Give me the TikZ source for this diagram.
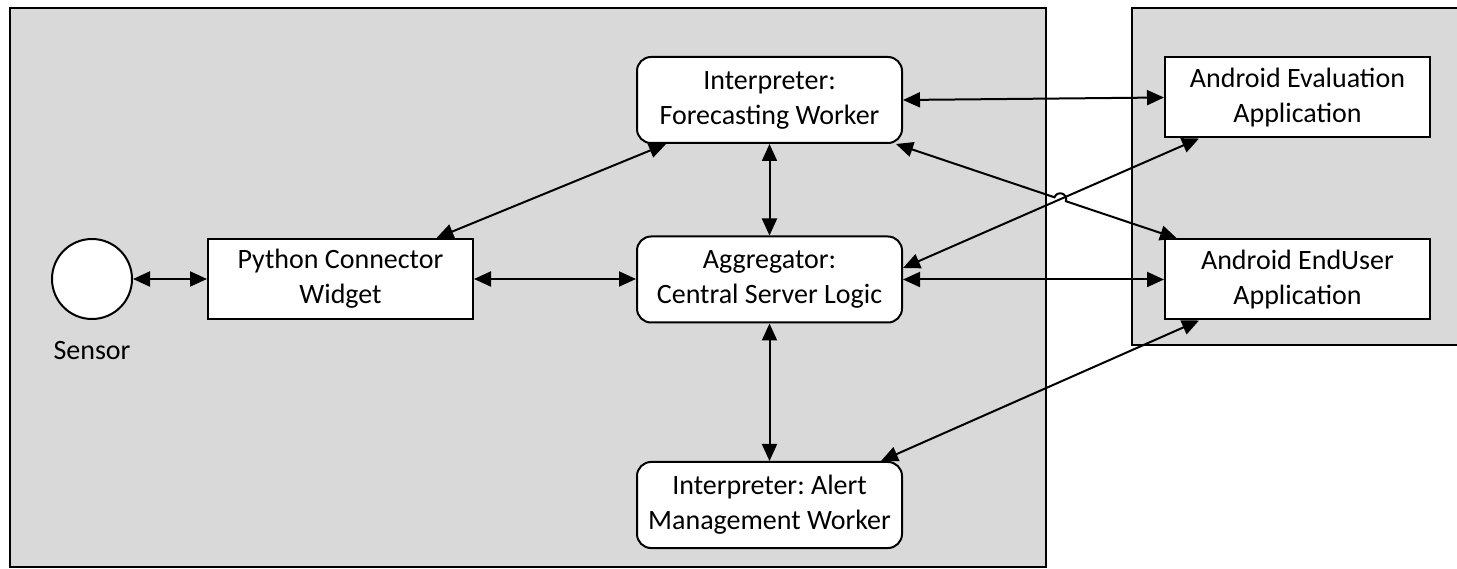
\documentclass[tikz,border=0pt]{standalone}
\usepackage{fontspec}
\setmainfont{Carlito}
\usepackage{tikz}
\usetikzlibrary{arrows.meta}
\usetikzlibrary{intersections}
\usetikzlibrary{calc}
\frenchspacing
\definecolor{panelgray}{RGB}{217,217,217}
\tikzset{
    box/.style={shape=rectangle, draw=black, fill=white, line width=1pt, minimum width=132.5pt, minimum height=40pt, align=center, font=\fontsize{14}{17.5}\selectfont},
    roundbox/.style={box, rounded corners=7pt, minimum height=43pt},
    panel/.style={draw=black, fill=panelgray, line width=0.8pt},
    link/.style={{Triangle[length=8.5pt,width=7.5pt]}-{Triangle[length=8.5pt,width=7.5pt]}, line width=1pt}}

\begin{document}
\begin{tikzpicture}[x=0.5pt, y=0.5pt]
                    \useasboundingbox (0,0) rectangle (1457,568);
                    \draw[panel] (10,560) rectangle (1046,1);
                    \draw[panel] (1132,560) rectangle (1470,223);

                    \node[shape=circle, draw=black, fill=white, line width=1pt, minimum size=40pt, label={[font=\fontsize{14}{17.5}\selectfont, label distance=7pt]below:Sensor}] (sensor) at (92,289) {};
                    \node[box] (py) at (340.5,289) {Python Connector\\Widget};
                    \node[roundbox] (ag) at (769.5,288.5) {Aggregator:\\Central Server Logic};
                    \node[roundbox] (fw) at (769.5,468) {Interpreter:\\Forecasting Worker};
                    \node[roundbox] (al) at (769.5,63) {Interpreter: Alert\\Management Worker};
                    \node[box] (ev) at (1297.5,470.5) {Android Evaluation\\Application};
                    \node[box] (eu) at (1297.5,288.5) {Android EndUser\\Application};

                    \coordinate (pytop) at ([xshift=48pt]py.north);
                    \coordinate (fwleft) at ([xshift=15pt]fw.south west);
                    \coordinate (fwright) at ([xshift=-3.5pt]fw.south east);
                    \coordinate (agright) at ([yshift=5.75pt]ag.east);
                    \coordinate (altop) at ([xshift=-11pt]al.north east);
                    \coordinate (evbottom) at ([xshift=17.5pt]ev.south west);
                    \coordinate (eutop) at ([xshift=6.5pt]eu.north west);
                    \coordinate (eubottom) at ([xshift=17.5pt]eu.south west);

                    \draw[link] (sensor) -- (py);
                    \draw[link] (py.east) -- (py.east -| ag.west);
                    \draw[link] (pytop) -- (fwleft);
                    \draw[link] (fw) -- (ag);
                    \draw[link] (ag) -- (al);
                    \draw[link] (fw.east) -- (ev.west);
                    \draw[link] (ag.east) -- (eu.west);
                    \draw[link] (altop) -- (eubottom);

                    \path[name path=ab] (agright) -- (evbottom);
                    \path[name path=fe] (fwright) -- (eutop);
                    \path[name intersections={of=ab and fe, by=hop}];
                    \draw[link] (agright) -- (evbottom);
                    \draw[link] (fwright) -- ($(hop)!3pt!(fwright)$) arc[start angle=161, end angle=-19, radius=3pt] -- (eutop);

                \end{tikzpicture}
\end{document}
